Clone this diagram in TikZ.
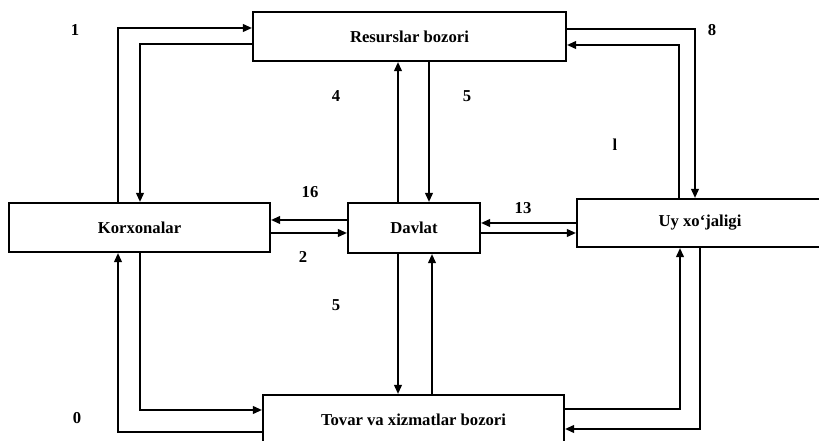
\documentclass[tikz,border=0pt]{standalone}
\usepackage{fontspec}
\setmainfont{Liberation Serif}
\usetikzlibrary{arrows.meta, positioning}

\tikzset{
  box/.style={draw, line width=1.2pt, rectangle, minimum height=49*0.6pt, font=\bfseries},
  flow/.style={line width=1.2pt, -{Triangle[length=5.5pt,width=4.6pt]}},
  num/.style={font=\bfseries}
}

\begin{document}
\begin{tikzpicture}[x=0.6pt, y=-0.6pt]
\useasboundingbox (0,0) rectangle (819,441);
\clip (0,0) rectangle (819,441);

% Boxes
\node[box, minimum width=313*0.6pt] (res) at (409.5,36.5) {Resurslar bozori};
\node[box, minimum width=261*0.6pt] (kor) at (139.5,227.5) {Korxonalar};
\node[box, minimum width=132*0.6pt, minimum height=50*0.6pt] (dav) at (414,228) {Davlat};
\node[box, minimum width=246*0.6pt, minimum height=48*0.6pt] (uy) at (700,223) {Uy xo`jaligi};
\node[box, minimum width=301*0.6pt, minimum height=50*0.6pt] (tov) at (413.5,420) {Tovar va xizmatlar bozori};

% Upper flows
\draw[flow] (kor.north -| 118,0) |- (res.west |- 0,28);
\draw[flow] (res.west |- 0,44) -| (kor.north -| 140,0);
\draw[flow] (dav.north -| 398,0) -- (res.south -| 398,0);
\draw[flow] (res.south -| 429,0) -- (dav.north -| 429,0);
\draw[flow] (res.east |- 0,29) -| (uy.north -| 695,0);
\draw[flow] (uy.north -| 679,0) |- (res.east |- 0,45);

% Middle flows
\draw[flow] (dav.west |- 0,220) -- (kor.east |- 0,220);
\draw[flow] (kor.east |- 0,233) -- (dav.west |- 0,233);
\draw[flow] (uy.west |- 0,223) -- (dav.east |- 0,223);
\draw[flow] (dav.east |- 0,233) -- (uy.west |- 0,233);

% Lower flows
\draw[flow] (dav.south -| 398,0) -- (tov.north -| 398,0);
\draw[flow] (tov.north -| 432,0) -- (dav.south -| 432,0);
\draw[flow] (kor.south -| 140,0) |- (tov.west |- 0,410);
\draw[flow] (tov.west |- 0,432) -| (kor.south -| 118,0);
\draw[flow] (tov.east |- 0,409) -| (uy.south -| 680,0);
\draw[flow] (uy.south -| 700,0) |- (tov.east |- 0,429);

% Numbers
\node[num] (n1) at (75,30) {1};
\node[num] (n4) at (336,96) {4};
\node[num] (n5a) at (467,96) {5};
\node[num] (n8) at (712,30) {8};
\node[num] (nl) at (615,145) {l};
\node[num] (n16) at (310,192) {16};
\node[num] (n2) at (303,257) {2};
\node[num] (n13) at (523,208) {13};
\node[num] (n5b) at (336,305) {5};
\node[num] (n0) at (77,418) {0};
\end{tikzpicture}
\end{document}
